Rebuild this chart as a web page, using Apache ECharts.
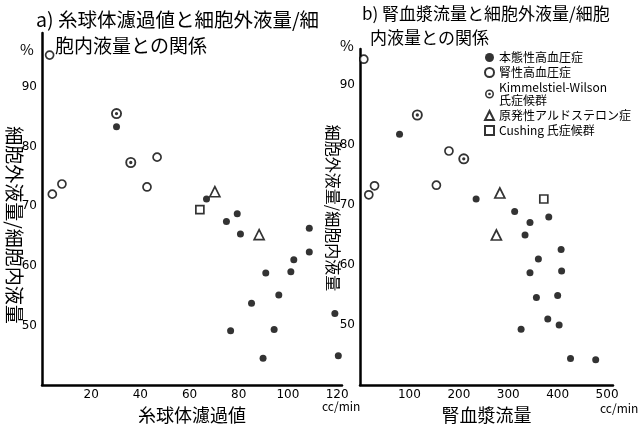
<!DOCTYPE html>
<html>
<head>
<meta charset="utf-8">
<script src="https://cdn.jsdelivr.net/npm/echarts@6/dist/echarts.min.js"></script>
<style>
  html, body { margin: 0; padding: 0; background: #fff; }
  #main { width: 641px; height: 429px; }
</style>
</head>
<body>
<div id="main"></div>
<script>
// 凡例名
const groupNames = ['本態性高血圧症', '腎性高血圧症', 'Kimmelstiel-Wilson\n氏症候群', '原発性アルドステロン症', 'Cushing 氏症候群']

// a) 糸球体濾過値 (cc/min) と 細胞外液量/細胞内液量 (%)
const gfrEssential = [[30.3, 83.3], [66.9, 71.2], [79.4, 68.7], [75.0, 67.4], [80.7, 65.3], [108.7, 66.3], [108.7, 62.3], [102.4, 61], [101.2, 59], [91.0, 58.8], [96.3, 55.1], [85.2, 53.7], [76.7, 49.1], [94.4, 49.3], [89.9, 44.5], [119.1, 52], [120.5, 44.9]]
const gfrRenal = [[3.1, 95.3], [4.2, 72], [8.1, 73.7], [46.8, 78.2], [42.7, 73.2]]
const gfrKW = [[30.3, 85.5], [36.1, 77.3]]
const gfrAldo = [[70.3, 72.4], [88.3, 65.2]]
const gfrCushing = [[64.2, 69.4]]

// b) 腎血漿流量 (cc/min) と 細胞外液量/細胞内液量 (%)
const rpfEssential = [[80, 81.8], [235, 71], [313, 68.9], [344, 67.1], [382, 68], [334, 65], [407, 62.6], [361, 61], [344, 58.7], [408, 59], [357, 54.6], [400, 54.9], [380, 51], [403, 50], [326, 49.3], [426, 44.4], [477, 44.2]]
const rpfRenal = [[7.7, 94.3], [180, 79], [29.4, 73.2], [17.8, 71.7], [154.6, 73.3]]
const rpfKW = [[116, 85], [210, 77.7]]
const rpfAldo = [[283, 72], [276, 65]]
const rpfCushing = [[372, 71]]

// 目盛ラベル
const gfrTicks = [20, 40, 60, 80, 100, 120]
const rpfTicks = [100, 200, 300, 400, 500]
const pctTicks = [50, 60, 70, 80, 90]

// ⊙ 記号 (外円・内円の穴・中心点)
const kwPath = 'path://M0,-5A5,5 0 1,1 0,5A5,5 0 1,1 0,-5Z' +
  'M0,-3.3A3.3,3.3 0 1,0 0,3.3A3.3,3.3 0 1,0 0,-3.3Z' +
  'M0,-1.5A1.5,1.5 0 1,1 0,1.5A1.5,1.5 0 1,1 0,-1.5Z'

const markers = [
  { symbol: 'circle', symbolSize: 7, itemStyle: { color: '#000' } },
  { symbol: 'circle', symbolSize: 8, itemStyle: { color: '#fff', borderColor: '#000', borderWidth: 1.7 } },
  { symbol: kwPath, symbolSize: 11, itemStyle: { color: '#000' } },
  { symbol: 'triangle', symbolSize: 10, itemStyle: { color: '#fff', borderColor: '#000', borderWidth: 1.7 } },
  { symbol: 'rect', symbolSize: 8, itemStyle: { color: '#fff', borderColor: '#000', borderWidth: 1.7 } }
]

const makeSeries = (groups, idx) => groups.map((data, i) => ({
  name: groupNames[i],
  type: 'scatter',
  xAxisIndex: idx,
  yAxisIndex: idx,
  data: data,
  clip: false,
  symbol: markers[i].symbol,
  symbolSize: markers[i].symbolSize,
  itemStyle: markers[i].itemStyle
}))

const tickFont = { color: '#000', fontSize: 12, fontFamily: 'DejaVu Sans' }
const jpFont = 'Noto Sans CJK JP'

const xAxisBase = (gridIndex, max, ticks, interval, name) => ({
  type: 'value',
  gridIndex: gridIndex,
  min: 0,
  max: max,
  interval: interval,
  name: name,
  nameLocation: 'middle',
  nameGap: 18,
  nameTextStyle: { color: '#000', fontSize: 18, fontFamily: jpFont },
  axisLine: { show: true, onZero: false, lineStyle: { color: '#000', width: 2.5 } },
  axisTick: { show: false },
  splitLine: { show: false },
  axisLabel: {
    ...tickFont,
    margin: 4,
    formatter: v => ticks.includes(v) ? String(v) : ''
  }
})

const yAxisBase = (gridIndex, max) => ({
  type: 'value',
  gridIndex: gridIndex,
  min: 40,
  max: max,
  interval: 10,
  axisLine: { show: true, onZero: false, lineStyle: { color: '#000', width: 2.5 } },
  axisTick: { show: false },
  splitLine: { show: false },
  axisLabel: {
    ...tickFont,
    margin: 5,
    formatter: v => pctTicks.includes(v) ? String(v) : ''
  }
})

const txt = (text, x, y, size, extra) => ({
  type: 'text',
  x: x,
  y: y,
  rotation: (extra && extra.rotation) || 0,
  style: {
    text: text,
    fill: '#000',
    font: size + 'px "' + jpFont + '"',
    textAlign: (extra && extra.align) || 'left',
    textVerticalAlign: 'middle'
  }
})

const chart = echarts.init(document.getElementById('main'))

const option = {
  backgroundColor: '#fff',
  animation: false,
  grid: [
    { left: 42, right: 299, top: 33, bottom: 41 },
    { left: 360, right: 28, top: 49, bottom: 44 }
  ],
  xAxis: [
    xAxisBase(0, 122, gfrTicks, 20, '糸球体濾過値'),
    xAxisBase(1, 512, rpfTicks, 100, '腎血漿流量')
  ],
  yAxis: [
    yAxisBase(0, 99),
    yAxisBase(1, 96)
  ],
  legend: {
    orient: 'vertical',
    left: 479,
    top: 46,
    itemWidth: 9,
    itemHeight: 9,
    itemGap: 2,
    textStyle: { color: '#000', fontSize: 12, lineHeight: 13, fontFamily: jpFont },
    data: groupNames
  },
  graphic: [
    txt('a) 糸球体濾過値と細胞外液量/細', 36, 20, 19.5),
    txt('胞内液量との関係', 55, 46, 19),
    txt('b) 腎血漿流量と細胞外液量/細胞', 362, 14, 17),
    txt('内液量との関係', 370, 38, 17),
    txt('%', 20, 49, 15),
    txt('%', 340, 45, 15),
    txt('cc/min', 322, 406, 12),
    txt('cc/min', 600, 408, 12),
    txt('細胞外液量/細胞内液量', 14, 225, 19, { rotation: -Math.PI / 2, align: 'center' }),
    txt('細胞外液量/細胞内液量', 333, 208, 16, { rotation: -Math.PI / 2, align: 'center' })
  ],
  series: [
    ...makeSeries([gfrEssential, gfrRenal, gfrKW, gfrAldo, gfrCushing], 0),
    ...makeSeries([rpfEssential, rpfRenal, rpfKW, rpfAldo, rpfCushing], 1)
  ]
}

chart.setOption(option)
</script>
</body>
</html>
